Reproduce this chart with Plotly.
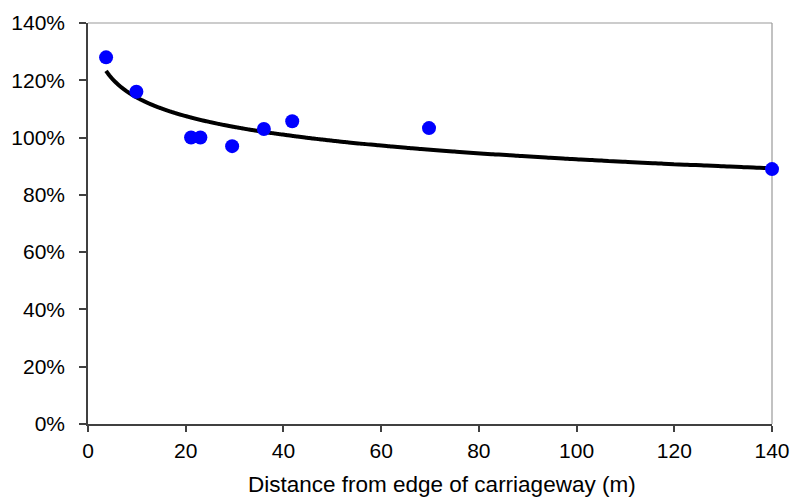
import numpy as np
import plotly.graph_objects as go

distance_m = [3.7, 9.9, 21.1, 23.0, 29.5, 36.0, 41.8, 69.8, 140.0]
relative_pct = [1.28, 1.16, 1.00, 1.00, 0.97, 1.03, 1.057, 1.033, 0.89]
x_ticks = [0, 20, 40, 60, 80, 100, 120, 140]
y_ticks = [0, 0.2, 0.4, 0.6, 0.8, 1.0, 1.2, 1.4]
x_title = "Distance from edge of carriageway (m)"

# logarithmic trendline fitted to the data
b, a = np.polyfit(np.log(distance_m), relative_pct, 1)
xt = np.geomspace(min(distance_m), max(distance_m), 400)
yt = a + b * np.log(xt)

fam = "Liberation Sans, Arial, sans-serif"
tfont = dict(family=fam, size=21, color="#000")
titlefont = dict(family=fam, size=22.5, color="#000")

fig = go.Figure()
fig.add_trace(go.Scatter(x=xt, y=yt, mode="lines",
                         line=dict(color="#000", width=4, shape="spline"), cliponaxis=False,
                         hoverinfo="skip", showlegend=False))
fig.add_trace(go.Scatter(x=distance_m, y=relative_pct, mode="markers",
                         marker=dict(color="#0000ff", size=14), cliponaxis=False,
                         showlegend=False))

fig.update_layout(
    width=792, height=499,
    margin=dict(l=88, r=20, t=23, b=75),
    paper_bgcolor="white", plot_bgcolor="white",
    font=tfont,
    xaxis=dict(range=[0, 140], tickvals=x_ticks, showgrid=False, zeroline=False,
               automargin=False, tickfont=tfont,
               showline=True, linecolor="#404040", linewidth=1.5,
               ticks="outside", ticklen=6, tickcolor="#404040", tickwidth=1.5,
               ticklabelstandoff=1),
    yaxis=dict(range=[0, 1.4], tickvals=y_ticks, tickformat=".0%", showgrid=False,
               automargin=False, tickfont=tfont,
               zeroline=False, showline=True, linecolor="#404040", linewidth=1.5,
               ticks="outside", ticklen=7, tickcolor="#404040", tickwidth=1.5,
               ticklabelstandoff=10),
    annotations=[dict(text=x_title, xref="paper", yref="paper", x=0.5175, y=0,
                      xanchor="center", yanchor="middle", yshift=-60,
                      showarrow=False, font=titlefont)],
    shapes=[
        dict(type="line", xref="paper", yref="paper", x0=0, x1=1, y0=1, y1=1,
             line=dict(color="#999999", width=1.2), layer="below"),
        dict(type="line", xref="paper", yref="paper", x0=1, x1=1, y0=0, y1=1,
             line=dict(color="#999999", width=1.2), layer="below"),
    ],
)

fig.write_html("out.html", config={"displayModeBar": False},
               post_script="document.body.style.margin='0';document.body.style.overflow='hidden';")
